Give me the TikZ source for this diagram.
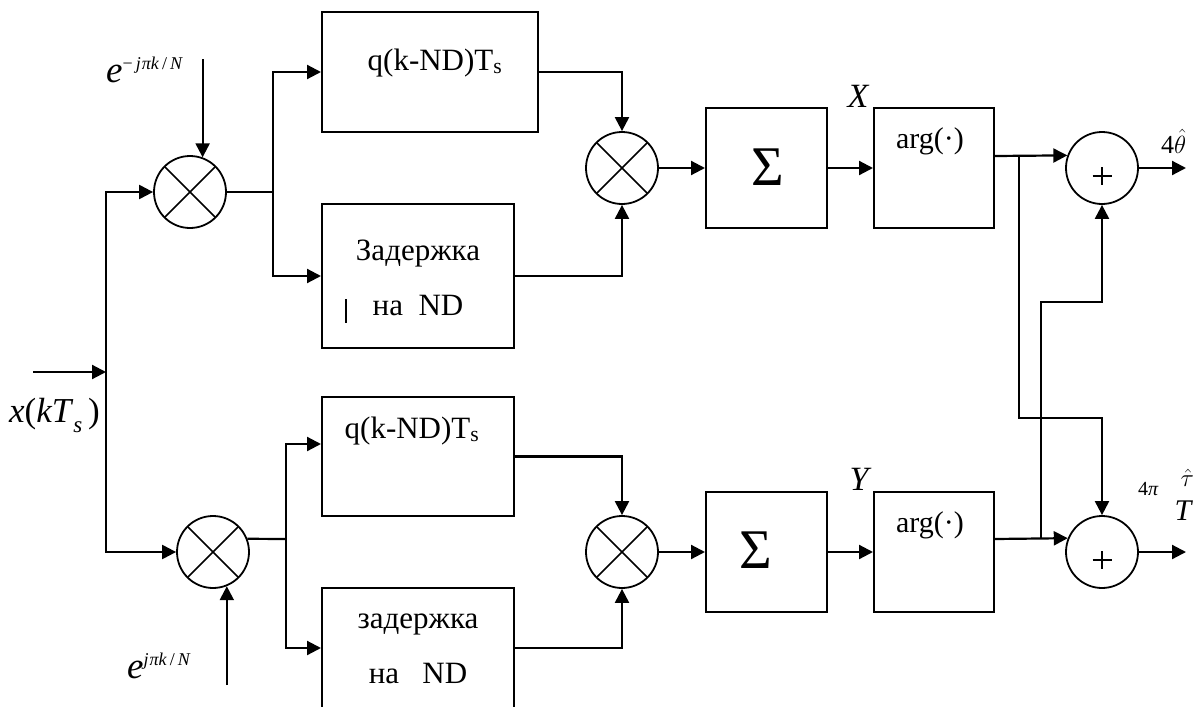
\documentclass[tikz,border=0pt]{standalone}
\usepackage{fontspec}
\setmainfont{Liberation Serif}
\usepackage{amsmath}
\usetikzlibrary{arrows.meta}
\newcommand{\fsz}[1]{\fontsize{#1}{#1}\selectfont}
\begin{document}
\begin{tikzpicture}[x=1pt,y=-1pt,
  wire/.style={line width=2.2pt},
  arr/.style={wire,-{Triangle[length=14pt,width=14pt]}},
  blk/.style={draw,line width=2pt,rectangle,inner sep=0pt},
  mult/.style={circle,draw,line width=1.8pt,minimum size=72pt,inner sep=0pt,
     path picture={\draw[line width=1.5pt] (path picture bounding box.center) +(-25.5,-25.5) -- +(25.5,25.5) +(-25.5,25.5) -- +(25.5,-25.5);}},
  adder/.style={circle,draw,line width=1.8pt,minimum size=72pt,inner sep=0pt,
     path picture={\draw[line width=1.1pt] (path picture bounding box.center) +(-9.5,8) -- +(9.5,8) +(0,-1) -- +(0,17);}},
  txt/.style={inner sep=0pt,anchor=base},
  lab/.style={inner sep=0pt,anchor=base west}
]
\useasboundingbox (0,0) rectangle (1200,707);

% blocks
\node[mult] (mixA) at (190,192) {};
\node[mult] (mixB) at (213,552) {};
\node[blk,minimum width=216pt,minimum height=120pt] (qA) at (430,72) {};
\node[blk,minimum width=192pt,minimum height=144pt] (dA) at (418,276) {};
\node[blk,minimum width=192pt,minimum height=119pt] (qB) at (418,456.5) {};
\node[blk,minimum width=192pt,minimum height=120pt] (dB) at (418,648) {};
\node[mult] (prodA) at (622,168) {};
\node[mult] (prodB) at (622,552) {};
\node[blk,minimum width=121pt,minimum height=120pt] (sumA) at (766.5,168) {};
\node[blk,minimum width=121pt,minimum height=120pt] (sumB) at (766.5,552) {};
\node[blk,minimum width=120pt,minimum height=120pt] (argA) at (934,168) {};
\node[blk,minimum width=120pt,minimum height=120pt] (argB) at (934,552) {};
\node[adder] (addA) at (1102,168) {};
\node[adder] (addB) at (1102,552) {};

% texts
\node[txt,font=\fsz{31}] (qAt) at (435,70) {q(k-ND)T\textsubscript{s}};
\node[txt,font=\fsz{31}] (dAt1) at (418,260) {Задержка};
\node[txt,font=\fsz{31}] (dAt2) at (418,315) {на\ \ ND};
\node[txt,font=\fsz{31}] (qBt) at (412,438) {q(k-ND)T\textsubscript{s}};
\node[txt,font=\fsz{31}] (dBt1) at (418,628) {задержка};
\node[txt,font=\fsz{31}] (dBt2) at (418,683) {на\ \ \ ND};
\node[txt,font=\fsz{56}] (sAt) at (768,185) {Σ};
\node[txt,font=\fsz{56}] (sBt) at (756,568) {Σ};
\node[txt,font=\fsz{30}] (aAt) at (930,148) {arg(·)};
\node[txt,font=\fsz{30}] (aBt) at (930,532) {arg(·)};
\node[txt,font=\fsz{34}\itshape] (Xl) at (858,107) {X};
\node[txt,font=\fsz{34}\itshape] (Yl) at (859,490) {Y};
\node[lab,font=\fsz{35}] (xin) at (9,422) {\textit{x}(\textit{kT}\raisebox{-10pt}{\fsz{23}\textit{s}}\,)};
\node[lab] (eAl) at (106,82) {\fsz{37}\textit{e}\raisebox{13pt}{\fsz{18}−\,\textit{j\kern1pt πk}\,/\,\textit{N}}};
\node[lab] (eBl) at (127,678) {\fsz{37}\textit{e}\raisebox{13pt}{\fsz{18}\textit{j\kern1pt πk}\,/\,\textit{N}}};
\node[lab] (thl) at (1161,153) {\fsz{26}4$\hat{\theta}$};
\node[lab] (taul) at (1138,495) {\fsz{20}4\textit{π}\hspace{16pt}\rlap{\hspace{6pt}\raisebox{9pt}{\fsz{28}$\hat{\tau}$}}\raisebox{-25pt}{\fsz{30}\textit{T}}};
\draw[line width=1.8pt] (346,299) -- (346,323);

% input
\coordinate (in) at (33,372);
\coordinate (jn) at (106,372);
\draw[arr] (in) -- (jn);
\draw[arr] (jn) |- (mixA.west);
\draw[arr] (jn) |- (mixB.west);
\coordinate (eAs) at (mixA.70.5 |- 0,59);
\draw[arr] (eAs) -- (mixA.70.5);
\coordinate (eBs) at (mixB.-68.8 |- 0,685);
\draw[arr] (eBs) -- (mixB.-68.8);

% branches
\coordinate (bA) at (273,192);
\draw[wire] (mixA.east) -- (bA);
\draw[arr] (bA) |- (qA.west);
\draw[arr] (bA) |- (dA.west);
\coordinate (bB) at (286,539);
\draw[wire] (mixB.21.2) -- (bB);
\coordinate (qBin) at (qB.west |- 0,444);
\draw[arr] (bB) |- (qBin);
\draw[arr] (bB) |- (dB.west);

% products
\draw[arr] (qA.east) -| (prodA.north);
\draw[arr] (dA.east) -| (prodA.south);
\draw[arr] (qB.east) -| (prodB.north);
\draw[arr] (dB.east) -| (prodB.south);
\draw[arr] (prodA.east) -- (sumA.west);
\draw[arr] (prodB.east) -- (sumB.west);
\draw[arr] (sumA.east) -- (argA.west);
\draw[arr] (sumB.east) -- (argB.west);

% arg outputs
\coordinate (aAo) at (argA.east |- 0,156);
\draw[arr] (aAo) -- (addA.160.5);
\coordinate (bx) at (1019,156);
\coordinate (by) at (1019,418);
\draw[arr] (bx) -- (by) -| (addB.north);
\coordinate (aBo) at (argB.east |- 0,539);
\draw[arr] (aBo) -- (addB.158.8);
\coordinate (cx) at (1041,539);
\coordinate (cy) at (1041,302);
\draw[arr] (cx) -- (cy) -| (addA.south);
\coordinate (oA) at (1186,168);
\draw[arr] (addA.east) -- (oA);
\coordinate (oB) at (1186,552);
\draw[arr] (addB.east) -- (oB);
\end{tikzpicture}
\end{document}
